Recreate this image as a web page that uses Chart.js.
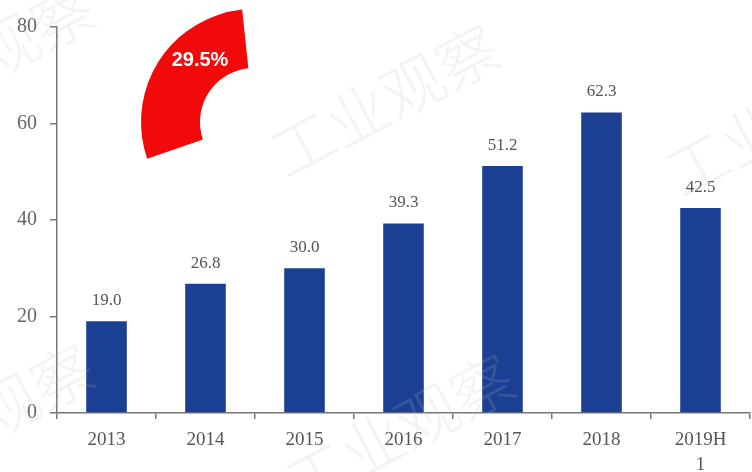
<!DOCTYPE html>
<html>
<head>
<meta charset="utf-8">
<script src="https://cdn.jsdelivr.net/npm/chart.js@4"></script>
<style>
  html, body { margin: 0; padding: 0; background: #fff; }
  #wrap { width: 752px; height: 472px; }
</style>
</head>
<body>
<div id="wrap"><canvas id="output-canvas"></canvas></div>
<script>
const years = ["2013", "2014", "2015", "2016", "2017", "2018", ["2019H", "1"]];
const output = [19.0, 26.8, 30.0, 39.3, 51.2, 62.3, 42.5];
const yTicks = [0, 20, 40, 60, 80];
const cagrText = "29.5%";
const watermark = "工业观察";

const outputCanvas = document.querySelector("#output-canvas");

// numbers above each bar
const valueLabels = {
  id: "valueLabels",
  afterDatasetsDraw(chart) {
    const ctx = chart.ctx;
    const meta = chart.getDatasetMeta(0);
    ctx.save();
    ctx.font = "17px 'Liberation Serif'";
    ctx.fillStyle = "#555";
    ctx.textAlign = "center";
    ctx.textBaseline = "bottom";
    meta.data.forEach((bar, i) => {
      ctx.fillText(output[i].toFixed(1), bar.x, bar.y - 12);
    });
    ctx.restore();
  },
};

// red growth badge in the top-left corner
const growthBadge = {
  id: "growthBadge",
  afterDraw(chart) {
    const ctx = chart.ctx;
    const cx = 254, cy = 122;
    const a0 = (161 * Math.PI) / 180;
    const a1 = (264 * Math.PI) / 180;
    ctx.save();
    ctx.beginPath();
    ctx.arc(cx, cy, 113, a0, a1, false);
    ctx.arc(cx, cy, 54, a1, a0, true);
    ctx.closePath();
    ctx.fillStyle = "#f20a0a";
    ctx.fill();
    ctx.font = "bold 20px 'Liberation Sans'";
    ctx.fillStyle = "#fff";
    ctx.textAlign = "center";
    ctx.textBaseline = "middle";
    ctx.fillText(cagrText, 200, 60);
    ctx.restore();
  },
};

// faint diagonal watermark text
const watermarks = {
  id: "watermarks",
  afterDraw(chart) {
    const ctx = chart.ctx;
    const spots = [
      [385, 100],
      [400, 430],
      [780, 120],
      [-20, 60],
      [-20, 420],
    ];
    ctx.save();
    ctx.font = "200 62px 'Noto Sans CJK SC'";
    ctx.fillStyle = "rgba(190, 190, 190, 0.18)";
    ctx.textAlign = "center";
    ctx.textBaseline = "middle";
    spots.forEach(([x, y]) => {
      ctx.save();
      ctx.translate(x, y);
      ctx.rotate((-28 * Math.PI) / 180);
      ctx.fillText(watermark, 0, 0);
      ctx.restore();
    });
    ctx.restore();
  },
};

new Chart(outputCanvas, {
  type: "bar",
  data: {
    labels: years,
    datasets: [
      {
        label: "output",
        data: output,
        backgroundColor: "#1b3f93",
        barPercentage: 0.41,
        categoryPercentage: 1,
      },
    ],
  },
  options: {
    responsive: true,
    maintainAspectRatio: false,
    animation: false,
    layout: { padding: { top: 27, right: 2, left: 0, bottom: 0 } },
    plugins: {
      legend: { display: false },
      tooltip: { enabled: false },
    },
    scales: {
      x: {
        grid: {
          drawOnChartArea: false,
          tickLength: 6,
          color: "#777",
          lineWidth: 1.5,
        },
        border: { color: "#777", width: 1.5 },
        ticks: {
          color: "#555",
          font: { family: "Liberation Serif", size: 19, lineHeight: 1.35 },
          padding: 8,
          maxRotation: 0,
          autoSkip: false,
        },
        afterFit(scale) {
          scale.height = 59;
        },
      },
      y: {
        min: yTicks[0],
        max: yTicks[yTicks.length - 1],
        afterBuildTicks(scale) {
          scale.ticks = yTicks.map((v) => ({ value: v }));
        },
        grid: {
          drawOnChartArea: false,
          tickLength: 7,
          color: "#777",
          lineWidth: 1.5,
        },
        border: { color: "#777", width: 1.5 },
        ticks: {
          color: "#666",
          font: { family: "Liberation Serif", size: 20 },
          padding: 13,
        },
        afterFit(scale) {
          scale.width = 57;
        },
      },
    },
  },
  plugins: [valueLabels, growthBadge, watermarks],
});
</script>
</body>
</html>
